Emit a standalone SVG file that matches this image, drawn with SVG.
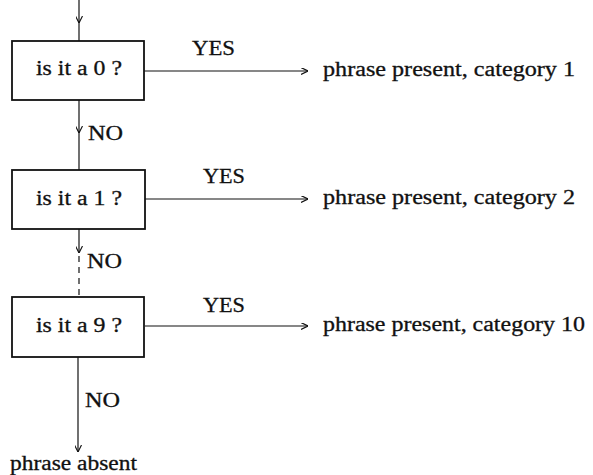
<svg xmlns="http://www.w3.org/2000/svg" width="593" height="475" viewBox="0 0 593 475">
<defs>
<marker id="ah" viewBox="0 0 10 10" refX="10" refY="5" markerWidth="7" markerHeight="7" markerUnits="userSpaceOnUse" orient="auto">
<path d="M0,0 L10,5 L0,10" fill="none" stroke="#111" stroke-width="1.6"/>
</marker>
</defs>
<style>
text{font-family:"Liberation Serif","Times New Roman",serif;font-size:20px;fill:#111;stroke:#111;stroke-width:0.3}
.box{fill:#fff;stroke:#111;stroke-width:1.8}
.ln{stroke:#111;stroke-width:1.2;fill:none}
.dash{stroke-dasharray:6,5}
</style>
<rect width="593" height="475" fill="#fff"/>
<g id="connectors">
<line class="ln" x1="79" y1="0" x2="79" y2="23" marker-end="url(#ah)"/>
<line class="ln" x1="79" y1="21" x2="79" y2="41"/>
<line class="ln" x1="79" y1="100" x2="79" y2="133" marker-end="url(#ah)"/>
<line class="ln" x1="79" y1="131" x2="79" y2="170"/>
<line class="ln" x1="79" y1="229" x2="79" y2="253" marker-end="url(#ah)"/>
<line class="ln dash" x1="79" y1="256" x2="79" y2="297"/>
<line class="ln" x1="78" y1="357" x2="78" y2="452" marker-end="url(#ah)"/>
<line class="ln" x1="144" y1="71" x2="308" y2="71" marker-end="url(#ah)"/>
<line class="ln" x1="145" y1="199" x2="308" y2="199" marker-end="url(#ah)"/>
<line class="ln" x1="145" y1="326" x2="308" y2="326" marker-end="url(#ah)"/>
<text x="192" y="55" textLength="43" lengthAdjust="spacingAndGlyphs">YES</text>
<text x="88" y="140" textLength="35" lengthAdjust="spacingAndGlyphs">NO</text>
<text x="203" y="183" textLength="42" lengthAdjust="spacingAndGlyphs">YES</text>
<text x="87" y="268" textLength="35" lengthAdjust="spacingAndGlyphs">NO</text>
<text x="203" y="312" textLength="42" lengthAdjust="spacingAndGlyphs">YES</text>
<text x="85" y="407" textLength="35" lengthAdjust="spacingAndGlyphs">NO</text>
</g>
<g id="n1"><rect class="box" x="12" y="41" width="132" height="59"/><text x="36" y="75" textLength="86" lengthAdjust="spacingAndGlyphs">is it a 0 ?</text></g>
<g id="n2"><rect class="box" x="12" y="170" width="133" height="59"/><text x="36" y="205" textLength="86" lengthAdjust="spacingAndGlyphs">is it a 1 ?</text></g>
<g id="n3"><rect class="box" x="12" y="297" width="132" height="60"/><text x="36" y="332" textLength="86" lengthAdjust="spacingAndGlyphs">is it a 9 ?</text></g>
<g id="r1"><text x="323" y="76" textLength="252" lengthAdjust="spacingAndGlyphs">phrase present, category 1</text></g>
<g id="r2"><text x="323" y="204" textLength="252" lengthAdjust="spacingAndGlyphs">phrase present, category 2</text></g>
<g id="r3"><text x="323" y="331" textLength="262" lengthAdjust="spacingAndGlyphs">phrase present, category 10</text></g>
<g id="end"><text x="10" y="470" textLength="127" lengthAdjust="spacingAndGlyphs">phrase absent</text></g>
</svg>
